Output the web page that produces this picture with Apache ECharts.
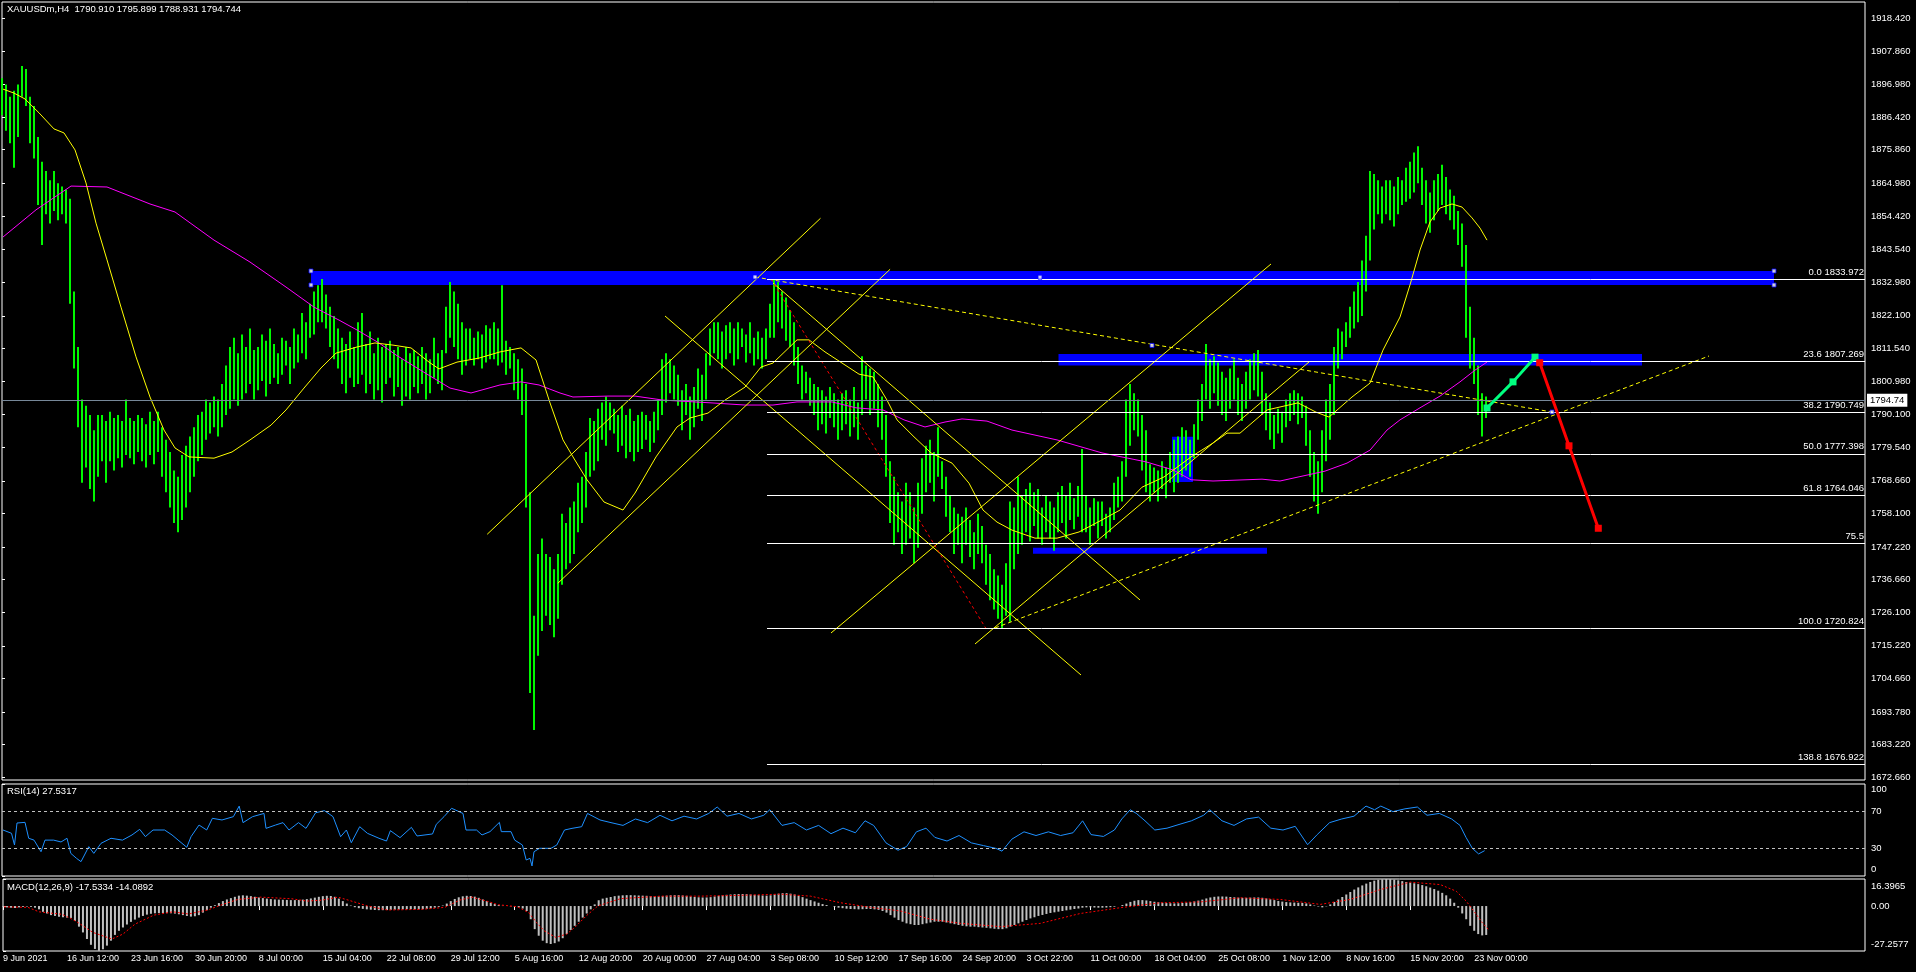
<!DOCTYPE html>
<html><head><meta charset="utf-8">
<script src="https://cdn.jsdelivr.net/npm/echarts@6/dist/echarts.min.js"></script>
<style>html,body{margin:0;padding:0;background:#000;overflow:hidden}#c{width:1916px;height:972px}</style>
</head><body><div id="c"></div><script>
const FONT = "'Liberation Sans',Arial,sans-serif";

const headerText = 'XAUUSDm,H4  1790.910 1795.899 1788.931 1794.744';
const rsiTitle = 'RSI(14) 27.5317';
const macdTitle = 'MACD(12,26,9) -17.5334 -14.0892';

const timeLabels = ['9 Jun 2021','16 Jun 12:00','23 Jun 16:00','30 Jun 20:00','8 Jul 00:00','15 Jul 04:00','22 Jul 08:00','29 Jul 12:00','5 Aug 16:00','12 Aug 20:00','20 Aug 00:00','27 Aug 04:00','3 Sep 08:00','10 Sep 12:00','17 Sep 16:00','24 Sep 20:00','3 Oct 22:00','11 Oct 00:00','18 Oct 04:00','25 Oct 08:00','1 Nov 12:00','8 Nov 16:00','15 Nov 20:00','23 Nov 00:00'];
const timeTickBars = [0,32,64,96,128,160,192,224,256,288,320,352,384,416,448,480,512,544,576,608,640,672,704,736];

const priceTicks = [1918.420,1907.860,1896.980,1886.420,1875.860,1864.980,1854.420,1843.540,1832.980,1822.100,1811.540,1800.980,1790.100,1779.540,1768.660,1758.100,1747.220,1736.660,1726.100,1715.220,1704.660,1693.780,1683.220,1672.660];

// H4 price history, one sample every two bars: lows and highs
const barLows = [
1887,1882,1878,1870,1880,1893,1890,1878,1873,1858,
1845,1855,1852,1856,1853,1855,1852,1826,1805,1786,
1768,1773,1766,1762,1770,1775,1768,1775,1772,1776,
1773,1777,1776,1774,1778,1775,1773,1777,1774,1778,
1770,1765,1760,1755,1752,1756,1760,1765,1770,1775,
1777,1782,1784,1786,1783,1786,1790,1792,1795,1793,
1795,1797,1800,1795,1798,1801,1796,1800,1802,1800,
1803,1806,1800,1805,1807,1810,1808,1815,1816,1820,
1820,1818,1812,1808,1805,1800,1797,1802,1799,1800,
1803,1797,1800,1795,1798,1794,1800,1802,1796,1799,
1793,1796,1795,1799,1797,1800,1795,1797,1802,1800,
1798,1810,1815,1812,1808,1803,1806,1808,1806,1808,
1805,1807,1808,1808,1806,1807,1803,1805,1798,1795,
1790,1760,1700,1688,1712,1720,1725,1722,1718,1724,
1735,1740,1742,1745,1752,1755,1760,1770,1772,1775,
1782,1780,1785,1784,1778,1780,1776,1778,1775,1778,
1779,1782,1778,1781,1785,1790,1794,1797,1795,1793,
1785,1790,1782,1786,1792,1788,1795,1806,1810,1808,
1805,1808,1810,1806,1808,1812,1807,1810,1806,1808,
1805,1808,1815,1815,1820,1818,1814,1812,1806,1800,
1795,1797,1793,1790,1785,1787,1784,1789,1786,1782,
1785,1787,1783,1786,1782,1790,1795,1790,1792,1786,
1782,1770,1755,1748,1752,1745,1748,1750,1742,1747,
1758,1765,1768,1762,1770,1766,1757,1752,1745,1748,
1742,1748,1744,1740,1745,1742,1735,1730,1727,1724,
1721,1725,1723,1740,1745,1748,1752,1749,1754,1750,
1748,1752,1750,1746,1752,1755,1750,1756,1753,1757,
1752,1752,1748,1754,1750,1754,1750,1752,1756,1760,
1762,1770,1780,1785,1783,1772,1765,1762,1765,1762,
1766,1763,1768,1765,1768,1770,1772,1770,1776,1782,
1788,1795,1792,1797,1793,1790,1788,1792,1795,1790,
1788,1792,1795,1798,1796,1790,1785,1782,1779,1784,
1781,1786,1788,1790,1787,1789,1780,1770,1762,1758,
1765,1775,1782,1790,1805,1808,1812,1815,1818,1820,
1822,1830,1840,1850,1855,1852,1855,1853,1851,1855,
1858,1859,1860,1862,1865,1858,1852,1849,1853,1856,
1858,1855,1853,1850,1845,1838,1815,1805,1800,1790,
1783,1789];
const barHighs = [
1899,1897,1893,1895,1897,1903,1902,1893,1890,1880,
1872,1869,1866,1869,1865,1864,1863,1860,1830,1812,
1795,1793,1790,1785,1790,1790,1788,1791,1789,1790,
1788,1795,1789,1788,1790,1789,1787,1791,1788,1791,
1786,1782,1778,1772,1770,1777,1780,1783,1786,1790,
1791,1795,1794,1796,1795,1800,1806,1812,1815,1810,
1816,1812,1818,1811,1812,1816,1814,1818,1813,1810,
1815,1814,1812,1818,1816,1823,1820,1826,1830,1832,
1834,1829,1825,1822,1818,1815,1813,1817,1812,1820,
1823,1813,1817,1810,1815,1812,1813,1814,1811,1812,
1808,1812,1810,1811,1809,1812,1810,1808,1815,1810,
1811,1825,1833,1830,1826,1820,1818,1818,1815,1817,
1816,1819,1818,1820,1818,1832,1814,1812,1810,1808,
1805,1800,1765,1725,1745,1750,1745,1744,1740,1745,
1758,1755,1760,1762,1768,1770,1778,1789,1788,1792,
1794,1796,1794,1792,1790,1793,1790,1792,1788,1790,
1791,1790,1788,1791,1795,1808,1810,1808,1806,1803,
1798,1800,1796,1799,1805,1803,1810,1818,1820,1820,
1817,1819,1820,1818,1820,1818,1816,1820,1815,1817,
1815,1818,1826,1834,1833,1830,1828,1824,1820,1812,
1806,1804,1802,1800,1799,1798,1796,1799,1797,1795,
1797,1798,1795,1799,1794,1809,1806,1805,1804,1800,
1796,1790,1775,1770,1765,1762,1768,1765,1760,1768,
1776,1780,1782,1778,1786,1775,1770,1764,1760,1758,
1757,1760,1756,1752,1758,1754,1748,1745,1740,1738,
1735,1742,1762,1760,1770,1764,1766,1768,1765,1766,
1760,1764,1762,1760,1765,1767,1764,1768,1763,1767,
1779,1764,1760,1763,1762,1762,1758,1760,1768,1770,
1775,1795,1800,1797,1795,1790,1785,1774,1773,1772,
1775,1773,1778,1782,1783,1786,1785,1782,1787,1795,
1800,1813,1808,1809,1807,1804,1802,1805,1808,1802,
1800,1804,1808,1810,1811,1804,1797,1794,1790,1792,
1791,1795,1797,1798,1797,1796,1793,1785,1778,1775,
1785,1795,1800,1812,1818,1817,1820,1825,1830,1833,
1840,1848,1869,1868,1866,1864,1866,1866,1864,1867,
1866,1870,1872,1875,1877,1870,1866,1862,1866,1868,
1871,1867,1863,1861,1856,1852,1845,1825,1815,1806,
1797,1796];

// moving averages [bar, price]
const yellowMA = [[0.5,1895.5],[6,1894.2],[11.5,1892.3],[18.5,1887.8],[26,1882.6],[31,1881.3],[36.5,1875.8],[42,1865.1],[47,1852.1],[52.5,1840.2],[59.5,1824.9],[67,1808.8],[74,1795.8],[81,1785.1],[86.5,1779.3],[93.5,1776.4],[106,1776.0],[115,1778.0],[124,1781.9],[134.5,1786.7],[142,1791.6],[151,1798.7],[159.5,1805.2],[167,1810.0],[177.5,1812.0],[186.5,1813.3],[195.5,1812.6],[204.5,1811.7],[213.5,1807.1],[218.5,1804.9],[227.5,1807.1],[238.5,1808.4],[249,1810.4],[259.5,1811.7],[267,1807.8],[274,1793.9],[280.5,1781.9],[285.5,1776.4],[292.5,1769.0],[301,1761.8],[310.5,1759.2],[316.5,1764.7],[327,1776.4],[337.5,1786.1],[344,1789.0],[353,1790.6],[361.5,1794.8],[371.5,1799.0],[379.5,1805.5],[385.5,1806.8],[397.5,1814.3],[403.5,1814.3],[411.5,1810.4],[420,1806.8],[428.5,1803.2],[435.5,1802.3],[442.5,1794.8],[447.5,1788.4],[456,1782.9],[464.5,1777.7],[475,1774.4],[483.5,1767.9],[490.5,1759.2],[497.5,1755.3],[505,1752.7],[516.5,1750.1],[527.5,1750.1],[538.5,1752.1],[550,1756.0],[559,1759.2],[570,1766.6],[581,1769.9],[594.5,1776.4],[605.5,1780.9],[612.5,1784.1],[619,1784.1],[632.5,1791.6],[648,1793.9],[657,1790.9],[663.5,1789.3],[675,1795.8],[684,1800.3],[690.5,1811.0],[699,1821.7],[704,1832.1],[709,1843.4],[714,1852.5],[719,1857.0],[725,1858.3],[730,1857.3],[735,1853.8],[739,1850.5],[742.5,1846.6]];
const magentaMA = [[0.5,1847.6],[17,1856.4],[34.5,1864.1],[52.5,1863.8],[74,1858.3],[86.5,1855.7],[106,1846.6],[124,1839.5],[142,1831.4],[156,1824.9],[168.5,1820.7],[177.5,1817.5],[188.5,1813.3],[197,1809.4],[211.5,1803.6],[224,1798.7],[234.5,1797.1],[249,1799.7],[259.5,1800.7],[268.5,1799.7],[279,1797.1],[285.5,1795.8],[303,1796.1],[316.5,1796.1],[330.5,1794.8],[354.5,1793.9],[371.5,1793.2],[385.5,1793.2],[397.5,1794.2],[415,1794.2],[427,1792.3],[440.5,1791.6],[451,1788.4],[461.5,1786.1],[471.5,1787.7],[480,1788.7],[492.5,1788.0],[505,1785.1],[527.5,1781.9],[550,1777.7],[572,1774.8],[585.5,1772.2],[594.5,1769.0],[605.5,1768.6],[630,1769.2],[639,1768.6],[661.5,1771.8],[672.5,1774.4],[684,1778.6],[692.5,1785.1],[699,1788.4],[709,1792.3],[719,1796.1],[729,1800.7],[736.5,1804.5],[742.5,1807.1]];

// drawn objects [bar, price]
const trendLines = [
  [[242.6,1751.35],[409.25,1853.67]],
  [[277.9,1735.48],[444.05,1837.16]],
  [[331.5,1822.03],[539.5,1705.79]],
  [[385.5,1832.72],[569,1730.08]],
  [[414.5,1719.39],[634.5,1838.87]],
  [[486.5,1715.83],[653.5,1807.14]]
];
const dottedLines = [
  [[376.5,1834.66],[775,1790.95]],
  [[496.5,1721.01],[853.5,1809.08]]
];
const objMarks = [[376.5,1834.66],[575,1812.5],[775,1790.95],[519,1834.6],[154.5,1836.6],[154.5,1832.06],[886,1836.6],[886,1832.06]];
const blueZones = [[154.5,1836.6,886,1832.06],[528.25,1809.7,820,1806.0],[515.5,1747.0,632.5,1745.05],[585,1782.9,595.5,1768.3]];
const fibAnchor = [[384.5,1833.972],[492,1720.824]];
const fibLevels = [1833.972,1807.269,1790.749,1777.398,1764.046,1748.545,1720.824,1676.922];
const fibLabels = ['0.0 1833.972','23.6 1807.269','38.2 1790.749','50.0 1777.398','61.8 1764.046','75.5','100.0 1720.824','138.8 1676.922'];
const fibStartBar = 382.5, fibEndBar = 931.5;
const lastPrice = 1794.744;
const greenPath = [[742.5,1792.25],[755.5,1800.7],[766.5,1808.7]];
const redPath = [[768.85,1806.9],[783.5,1780.0],[798.15,1753.3]];

// RSI(14)
const rsiPoints = [[0.5,50],[4.75,46.4],[6.25,33.7],[7.5,57.6],[11.5,58.3],[13.35,41],[16,39],[19.5,26.4],[21.5,39],[25.8,39],[29.5,37],[32.5,41],[34.4,24.6],[37.25,19.2],[39.5,15.6],[43.4,31.9],[45.9,24.6],[49.5,35.5],[54.5,41],[60.25,39],[65,44.6],[68.85,50.7],[71.7,42.8],[75.5,50],[81.3,50],[85,44.6],[89,37.3],[92.4,31.2],[94.5,42.7],[98.5,55.4],[102.35,50],[105.2,62.7],[110,60.9],[115.7,64.5],[118.6,76],[120.5,58],[125.3,64.5],[131,68],[132,51.8],[136.75,55.4],[140.5,58],[143.5,50],[148.25,58],[152,51.8],[156.85,68.8],[161.25,71],[165.5,64.5],[169.3,42.7],[172.2,50],[174.65,36.2],[178.85,53.6],[182.7,46.4],[188.5,41],[192.25,38],[194.2,49.3],[199,41.7],[204.7,52.9],[207.5,43.5],[215.25,45.7],[217.15,56.2],[221,64.5],[224.8,73.6],[230.5,68],[232,50],[237.25,50],[240,44.6],[244,48.2],[248.7,58.3],[249.65,48.2],[254.5,48.2],[256.35,39],[260.2,33.7],[262.1,17.4],[264,19.2],[265,10.9],[266,26.4],[268.8,30.1],[274.5,30.1],[277.4,33.7],[281.25,50],[285,51.8],[289.85,53.6],[292.75,68],[299,60.9],[304.5,58],[310.5,55],[316.7,62],[322.8,58],[329,66],[335,60],[341,65],[347.3,62],[353.4,68],[357.6,75],[362.5,65],[368.5,68],[374.7,62],[380.9,66],[383.9,72],[390,55],[396.1,58],[402.2,50],[408.3,55],[414.5,46],[420.5,52],[426.7,47],[431.5,60],[435.8,55],[442,36],[448,28],[452.3,32],[457.2,48],[462,52],[466.4,42],[472.5,38],[478.5,44],[484.7,36],[490.8,33],[497,30],[500,27],[504.9,40],[511,48],[517,44],[523.2,48],[529.3,44],[535.5,47],[540.3,60],[544.5,45],[550.7,43],[556.2,50],[559.9,62],[564.1,72],[567.2,68],[571.5,60],[576.4,50],[582.5,52],[588.5,56],[594.7,60],[600.8,66],[603.9,72],[610,60],[616,55],[622.2,62],[628.3,64],[634.4,52],[640.5,50],[646.6,54],[652.8,34],[657.6,45],[663.8,58],[669.9,62],[676,65],[682,76],[686.3,72],[689.4,76],[695.5,70],[701.5,73],[707.7,75],[712.5,66],[718.7,68],[724.8,62],[729,55],[732,42],[735.2,30],[738.3,24],[741.3,27.53]];
const rsiLevels = [70,30];
const rsiTicks = [100,70,30,0];
const rsiTickText = ['100','70','30','0'];
const rsiLabelAt = [94.6,70,30,7.7];   // label anchor inside the panel

// MACD(12,26,9): main histogram, one sample every two bars; signal [bar, value]
const macdHist = [
-0.5,-0.8,-1,-1.2,-0.8,-0.5,-0.3,-0.5,-1,-2,
-3.5,-4.5,-5.5,-6,-6.5,-6.8,-7,-7.2,-9,-12.5,
-16,-20,-23.5,-26,-27.2,-26.2,-24,-21,-17.5,-15,
-13,-11.2,-9.6,-8.2,-7,-6,-5.2,-4.7,-4.4,-4.3,
-4.2,-4.3,-4.4,-4.6,-5,-5.5,-6,-6.4,-6.2,-5.5,
-4,-2.5,-1,0.5,1.8,3,4,4.8,5.6,6.3,
6.5,6.3,6,5.6,5.2,4.8,4.5,4.2,4,3.9,
3.8,3.7,3.6,3.6,3.7,3.9,4.2,4.6,5.1,5.6,
6,6.2,6.1,5.6,4.5,3,1.5,0.3,-0.7,-1.3,
-1.7,-2,-2.2,-2.4,-2.5,-2.5,-2.4,-2.3,-2.2,-2.1,
-2,-1.9,-1.9,-2,-2,-1.9,-1.7,-1.4,-1,-0.5,
0.3,1.5,3,4.3,5.3,5.9,6.2,6.1,5.7,5,
4,3,2,1.2,0.6,0.2,0,-0.2,-0.4,-0.8,
-1.5,-3,-8,-14,-18,-21,-22.5,-23,-22.5,-21.5,
-19.5,-17,-14.5,-12,-9.5,-7,-4.5,-2,1,3.5,
4.5,5,5.5,6,6.3,6.5,6.6,6.6,6.5,6.4,
6.3,6.2,6,5.8,5.8,6,6.3,6.5,6.6,6.6,
6.4,6.2,5.8,5.5,5.3,5.2,5.2,5.4,5.8,6.2,
6.5,6.8,7,7.2,7.3,7.3,7.2,7,6.8,6.6,
6.4,6.3,6.5,7,7.5,7.8,7.8,7.5,7,6.2,
5.4,4.5,3.6,2.8,2,1.2,0.6,0,-0.5,-1,
-1.3,-1.6,-1.8,-1.9,-2,-1.9,-1.8,-1.8,-2,-2.3,
-3,-4,-5.5,-7,-8.5,-9.5,-10.5,-11,-11.5,-11.5,
-11,-10.5,-10,-9.5,-9.5,-9.5,-10,-10.5,-11,-11.5,
-12,-12.3,-12.5,-12.5,-12.8,-13,-13.2,-13.5,-13.8,-14,
-14,-13.5,-12.5,-11.5,-10.5,-9.5,-8.5,-7.5,-6.8,-6,
-5.4,-4.8,-4.2,-3.8,-3.4,-3,-2.6,-2.2,-1.8,-1.5,
-1,-0.8,-0.8,-0.9,-1,-1,-0.9,-0.7,-0.4,0,
0.6,1.5,2.5,3.2,3.6,3.6,3.4,3,2.6,2.3,
2,1.8,1.7,1.6,1.7,1.9,2.1,2.4,2.8,3.3,
3.9,4.6,5.2,5.6,5.8,5.8,5.7,5.5,5.3,5.1,
5,5,5.1,5.2,5.2,5,4.6,4.1,3.6,3.1,
2.7,2.4,2.2,2.1,2,1.9,1.6,1,0.3,-0.3,
-0.8,-0.2,1,2.5,4,5.5,7,8.5,10,11.3,
12.5,13.6,14.6,15.4,15.9,16.2,16.4,16.3,16,15.6,
15.1,14.6,14.2,13.8,13.3,12.7,12,11.2,10.3,9.3,
8,6.5,4.5,2,-1,-4.5,-8,-12,-15,-17,
-17.8,-17.53];
const macdSignal = [[0.5,-0.5],[12.5,-0.8],[18,-3.5],[29.5,-5],[33.5,-7.3],[37.5,-10],[45,-16],[54.5,-20],[60,-17],[66,-11],[75.5,-5.5],[85,-3.5],[92.75,-4.8],[102.35,-2.4],[110,1],[117.5,4],[129,5.4],[144.5,4.4],[152,3],[159.75,3.6],[167.5,5.4],[173,3.5],[182.5,0],[192.25,-2.4],[209.5,-2],[221,-0.8],[228.5,3.6],[234.5,5.4],[242,3],[247.75,0.8],[257.3,-0.4],[263,-4],[266.9,-10],[270.75,-15],[276.5,-19],[282,-17],[286,-13],[291.75,-6],[297.5,0],[309,4.5],[329,6],[349,6],[369,6.5],[389,7.2],[404,6],[419,2],[434,-0.8],[449,-3],[464,-8],[479,-10.5],[499,-12.5],[519,-10.5],[539,-4.5],[559,-1],[579,2],[599,2.5],[619,5],[639,4],[659,1],[674,4],[689,10],[704,14.5],[719,13],[727,9],[732,3],[737,-5],[740,-10],[743,-14.09]];
const macdTicks = [16.3965,0,-27.2577];
const macdTickText = ['16.3965','0.00','-27.2577'];
const macdLabelAt = [12.2,0,-23.2];   // label anchor inside the panel

const SAMPLE_STEP = 2; // each price / MACD sample covers two H4 bars
const priceData = barLows.map((lo, i) => [i * SAMPLE_STEP, lo, barHighs[i]]);
const macdData = macdHist.map((v, i) => [i * SAMPLE_STEP, v]);

const W = '#ffffff';
const txt = {color: W, fontFamily: FONT, fontSize: 9.5};
const chart = echarts.init(document.getElementById('c'), null, {renderer: 'canvas'});

const xBase = (gi, show) => ({
  type: 'value', gridIndex: gi, min: 0, max: fibEndBar,
  axisLine: {show: false}, splitLine: {show: false},
  axisTick: show ? {show: true, customValues: timeTickBars, length: 4, lineStyle: {color: W}} : {show: false},
  axisLabel: show ? Object.assign({}, txt, {show: true, fontSize: 9, customValues: timeTickBars, align: 'left', margin: 3,
    formatter: v => timeLabels[timeTickBars.indexOf(v)]}) : {show: false}
});

const series = [];
series.push({
  type: 'custom', xAxisIndex: 0, yAxisIndex: 0, z: 1, silent: true,
  data: blueZones, encode: {x: [0, 2], y: [1, 3]},
  renderItem: (p, api) => {
    const a = api.coord([api.value(0), api.value(1)]), b = api.coord([api.value(2), api.value(3)]);
    return {type: 'rect', shape: {x: Math.min(a[0], b[0]), y: Math.min(a[1], b[1]), width: Math.abs(b[0] - a[0]), height: Math.abs(b[1] - a[1])}, style: {fill: '#0000ff'}};
  }
});
series.push({
  type: 'custom', xAxisIndex: 0, yAxisIndex: 0, z: 2, silent: true,
  data: priceData, encode: {x: 0, y: [1, 2]},
  renderItem: (p, api) => {
    const x = api.value(0);
    const hi = api.coord([x, api.value(2)]), lo = api.coord([x, api.value(1)]);
    return {type: 'rect', shape: {x: Math.round(hi[0]) - 1, y: hi[1], width: 2, height: Math.max(1, lo[1] - hi[1])}, style: {fill: '#00f800'}};
  }
});
series.push({type: 'line', xAxisIndex: 0, yAxisIndex: 0, z: 3, data: magentaMA, symbol: 'none', silent: true, lineStyle: {color: '#ff00ff', width: 1}});
series.push({type: 'line', xAxisIndex: 0, yAxisIndex: 0, z: 3, data: yellowMA, symbol: 'none', silent: true, lineStyle: {color: '#ffff00', width: 1}});
trendLines.forEach(seg => series.push({type: 'line', xAxisIndex: 0, yAxisIndex: 0, z: 4, data: seg, symbol: 'none', silent: true, lineStyle: {color: '#ffff00', width: 1}}));
dottedLines.forEach(seg => series.push({type: 'line', xAxisIndex: 0, yAxisIndex: 0, z: 4, data: seg, symbol: 'none', silent: true, lineStyle: {color: '#ffff00', width: 1, type: [4, 3]}}));
series.push({
  type: 'line', xAxisIndex: 0, yAxisIndex: 0, z: 4, data: fibAnchor, symbol: 'none', silent: true,
  lineStyle: {color: '#ff0000', width: 1, type: [3, 3]},
  markLine: {
    silent: true, symbol: 'none', animation: false,
    lineStyle: {color: W, width: 1, type: 'solid'},
    label: Object.assign({show: true, position: 'insideEndTop', formatter: '{b}', distance: [1, 2]}, txt),
    emphasis: {disabled: true},
    data: fibLevels.map((p, i) => [{name: fibLabels[i], coord: [fibStartBar, p]}, {coord: [fibEndBar, p]}])
  }
});
series.push({
  type: 'line', xAxisIndex: 0, yAxisIndex: 0, z: 5, data: [], symbol: 'none', silent: true,
  markLine: {
    silent: true, symbol: 'none', animation: false,
    lineStyle: {color: '#778899', width: 1, type: 'solid'},
    label: {show: true, position: 'end', formatter: '{c}', distance: 2, backgroundColor: '#fff', color: '#000', fontFamily: FONT, fontSize: 9.5, padding: [2, 3, 1, 3]},
    data: [{yAxis: lastPrice}]
  }
});
series.push({type: 'scatter', xAxisIndex: 0, yAxisIndex: 0, z: 6, data: objMarks, symbol: 'rect', symbolSize: 4, silent: true, itemStyle: {color: '#fff', borderColor: '#0000ff', borderWidth: 1}});
series.push({type: 'line', xAxisIndex: 0, yAxisIndex: 0, z: 7, data: greenPath, symbol: 'rect', symbolSize: 7, silent: true, lineStyle: {color: '#00ff7f', width: 3}, itemStyle: {color: '#00ff7f'}});
series.push({type: 'line', xAxisIndex: 0, yAxisIndex: 0, z: 7, data: redPath, symbol: 'rect', symbolSize: 7, silent: true, lineStyle: {color: '#ff0000', width: 3}, itemStyle: {color: '#ff0000'}});

series.push({
  type: 'line', xAxisIndex: 1, yAxisIndex: 1, data: rsiPoints, symbol: 'none', silent: true,
  lineStyle: {color: '#1e90ff', width: 1},
  markLine: {silent: true, symbol: 'none', animation: false, label: {show: false},
    lineStyle: {color: '#c0c0c0', width: 1, type: [3, 3]},
    data: rsiLevels.map(v => ({yAxis: v}))}
});
series.push({type: 'bar', xAxisIndex: 2, yAxisIndex: 2, data: macdData, barWidth: 2, silent: true, itemStyle: {color: '#c0c0c0'}});
series.push({type: 'line', xAxisIndex: 2, yAxisIndex: 2, data: macdSignal, symbol: 'none', silent: true, z: 4, lineStyle: {color: '#ff0000', width: 1, type: [2, 2]}});

const gridStyle = {show: true, borderColor: W, borderWidth: 1, backgroundColor: 'transparent'};
const titleStyle = Object.assign({}, txt, {fontWeight: 'normal', fontSize: 9.5});
chart.setOption({
  backgroundColor: '#000',
  animation: false,
  title: [
    {text: headerText, left: 7, top: 4, padding: 0, textStyle: titleStyle},
    {text: rsiTitle, left: 7, top: 786, padding: 0, textStyle: titleStyle},
    {text: macdTitle, left: 7, top: 882, padding: 0, textStyle: titleStyle}
  ],
  grid: [
    Object.assign({left: 2, top: 2, width: 1863, height: 778}, gridStyle),
    Object.assign({left: 2, top: 784, width: 1863, height: 92}, gridStyle),
    Object.assign({left: 2, top: 879, width: 1863, height: 72}, gridStyle)
  ],
  xAxis: [xBase(0, false), xBase(1, false), xBase(2, true)],
  yAxis: [
    {type: 'value', gridIndex: 0, position: 'right', min: 1671.79, max: 1923.70,
      axisLine: {show: false}, splitLine: {show: false},
      axisTick: {show: true, customValues: priceTicks, length: 3, lineStyle: {color: W}},
      axisLabel: Object.assign({customValues: priceTicks, margin: 6, formatter: v => v.toFixed(3)}, txt)},
    {type: 'value', gridIndex: 1, position: 'right', min: 0, max: 100,
      axisLine: {show: false}, splitLine: {show: false},
      axisTick: {show: true, customValues: rsiTicks, length: 3, lineStyle: {color: W}},
      axisLabel: Object.assign({customValues: rsiLabelAt, margin: 6, formatter: v => rsiTickText[rsiLabelAt.indexOf(v)]}, txt)},
    {type: 'value', gridIndex: 2, position: 'right', min: -27.2577, max: 16.3965,
      axisLine: {show: false}, splitLine: {show: false},
      axisTick: {show: true, customValues: macdTicks, length: 3, lineStyle: {color: W}},
      axisLabel: Object.assign({customValues: macdLabelAt, margin: 6, formatter: v => macdTickText[macdLabelAt.indexOf(v)]}, txt)}
  ],
  series: series
});
</script></body></html>
